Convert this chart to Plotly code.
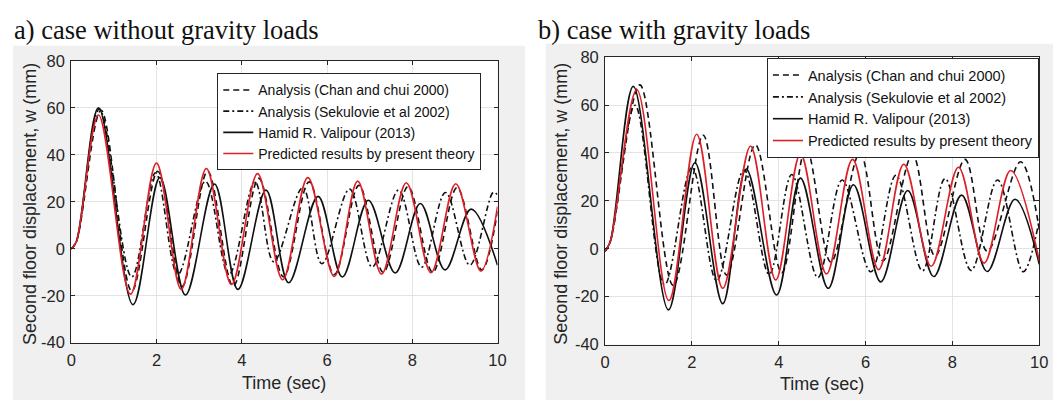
import plotly.graph_objects as go

W, H = 1061, 401

# ---------------- data (time s, displacement mm) ----------------
names = ["Analysis (Chan and chui 2000)", "Analysis (Sekulovie et al 2002)",
         "Hamid R. Valipour (2013)", "Predicted results by present theory"]

# panel a) case without gravity loads
a_chan_t = [0, 0.12, 0.70, 1.42, 2.03, 2.60, 3.20, 3.80, 4.40, 4.98, 5.58, 6.17, 6.75, 7.32, 7.90, 8.48, 9.05, 9.63, 10]
a_chan_v = [0, 3, 59, -18, 33, -16, 33, -16, 30, -12, 28.5, -11, 27, -10, 26.5, -10, 26, -9, 16]
a_sek_t = [0, 0.12, 0.66, 1.42, 1.98, 2.50, 3.15, 3.70, 4.31, 4.75, 5.43, 5.88, 6.53, 7.06, 7.68, 8.22, 8.78, 9.35, 9.90, 10]
a_sek_v = [0, 3, 59.5, -12, 32.4, -11, 28.7, -11, 28.5, -5.5, 26, -6.4, 25.4, -7.8, 25, -7.8, 24, -7, 24, 23]
a_ham_t = [0, 0.12, 0.64, 1.45, 2.08, 2.68, 3.36, 3.91, 4.57, 5.10, 5.79, 6.36, 6.97, 7.60, 8.19, 8.77, 9.38, 10]
a_ham_v = [0, 3, 60, -23.8, 30.3, -19.7, 27.6, -17.3, 25, -14.5, 22.3, -12, 20.7, -10.3, 19.3, -9, 16.9, -7]
a_red_t = [0, 0.12, 0.64, 1.39, 2.00, 2.58, 3.17, 3.76, 4.37, 4.96, 5.55, 6.17, 6.72, 7.28, 7.86, 8.44, 9.02, 9.61, 10]
a_red_v = [0, 3, 57, -19.3, 36.5, -17.3, 34.2, -15.2, 32, -13.2, 30.3, -11.8, 28.8, -10.8, 28.1, -10.2, 27.7, -9.5, 18]

# panel b) case with gravity loads
b_chan_t = [0, 0.12, 0.80, 1.57, 2.26, 2.80, 3.46, 4.07, 4.63, 5.20, 5.87, 6.40, 7.08, 7.60, 8.29, 8.80, 9.57, 10]
b_chan_v = [-1, 3, 68.4, -15.3, 47.4, -11, 43.4, -10, 42, -5.5, 40, -5, 39.3, -3, 37.3, -1, 36.3, 8]
b_sek_t = [0, 0.12, 0.69, 1.37, 2.00, 2.57, 3.20, 3.78, 4.30, 4.90, 5.46, 6.12, 6.70, 7.31, 7.83, 8.43, 9.04, 9.63, 10]
b_sek_v = [-1, 3, 59.9, -15, 34, -13.3, 32.9, -10.7, 31, -12, 28.7, -9.6, 30.7, -9.2, 29.3, -9, 28.7, -9.6, 12]
b_ham_t = [0, 0.12, 0.65, 1.46, 2.07, 2.71, 3.25, 3.95, 4.50, 5.14, 5.72, 6.35, 6.97, 7.57, 8.21, 8.80, 9.44, 10]
b_ham_v = [-1, 3, 67.8, -25.5, 35.9, -22.9, 33.3, -19.3, 29.5, -16.5, 26.7, -13.8, 24.3, -11.6, 22.4, -9.5, 20.7, -6.5]
b_red_t = [0, 0.12, 0.73, 1.47, 2.11, 2.71, 3.35, 3.93, 4.50, 5.10, 5.70, 6.30, 6.88, 7.51, 8.14, 8.73, 9.34, 10]
b_red_v = [-1, 3, 66.4, -21.6, 47.8, -16.5, 42.8, -13, 39.6, -10.5, 37.3, -8.7, 35.3, -7.3, 34, -6, 32.7, -5]

x_ticks = [0, 2, 4, 6, 8, 10]
x_tick_labels = ["0", "2", "4", "6", "8", "10"]
y_ticks = [-40, -20, 0, 20, 40, 60, 80]
y_tick_labels = ["-40", "-20", "0", "20", "40", "60", "80"]

# ---------------- styling ----------------
styles = [
    dict(color="#111111", width=1.6, dash="6px,4px"),
    dict(color="#111111", width=1.6, dash="6px,3px,2px,3px"),
    dict(color="#111111", width=1.6, dash="solid"),
    dict(color="#dd1f26", width=1.6, dash="solid"),
]
SANS = "Liberation Sans, Arial, sans-serif"
SERIF = "Liberation Serif, Times New Roman, serif"
AX = "#262626"

fig = go.Figure()
panels = [
    ("x", "y", "legend", [(a_chan_t, a_chan_v), (a_sek_t, a_sek_v), (a_ham_t, a_ham_v), (a_red_t, a_red_v)]),
    ("x2", "y2", "legend2", [(b_chan_t, b_chan_v), (b_sek_t, b_sek_v), (b_ham_t, b_ham_v), (b_red_t, b_red_v)]),
]
for xa, ya, lg, series in panels:
    for (t, v), name, st in zip(series, names, styles):
        fig.add_trace(go.Scatter(x=t, y=v, mode="lines", name=name, xaxis=xa, yaxis=ya,
                                 legend=lg, line=dict(shape="spline", smoothing=1.0, **st)))

# the page body adds an 8 px offset; positions below are given in screen pixels
OFF = 8


def px_x(p):
    return (p - OFF) / W


def px_y(p):
    return 1 - (p - OFF) / H


axis_common = dict(showline=True, linecolor=AX, linewidth=1, mirror="ticks", ticks="inside",
                   ticklen=4, tickcolor=AX, showgrid=True, gridcolor="#e3e3e3", gridwidth=1,
                   zeroline=False, tickfont=dict(family=SANS, size=16.5, color=AX))
xax = dict(range=[0, 10], tickvals=x_ticks, ticktext=x_tick_labels, ticklabelstandoff=3, **axis_common)
yax = dict(range=[-40, 80], tickvals=y_ticks, ticktext=y_tick_labels, ticklabelstandoff=2, **axis_common)

fig.update_layout(
    width=W, height=H, autosize=False,
    margin=dict(l=0, r=0, t=0, b=0),
    paper_bgcolor="white", plot_bgcolor="white",
    xaxis=dict(domain=[px_x(67), px_x(499)], anchor="y", **xax),
    yaxis=dict(domain=[px_y(349), px_y(54)], anchor="x", **yax),
    xaxis2=dict(domain=[px_x(608), px_x(1048)], anchor="y2", **xax),
    yaxis2=dict(domain=[px_y(351), px_y(50)], anchor="x2", **yax),
    legend=dict(x=px_x(215), y=px_y(67), xanchor="left", yanchor="top", bgcolor="white",
                bordercolor=AX, borderwidth=1, font=dict(family=SANS, size=14, color="#111"),
                tracegroupgap=0),
    legend2=dict(x=px_x(772), y=px_y(51), xanchor="left", yanchor="top", bgcolor="white",
                 bordercolor=AX, borderwidth=1, font=dict(family=SANS, size=14.5, color="#111"),
                 tracegroupgap=0),
    showlegend=True,
    shapes=[
        dict(type="rect", xref="paper", yref="paper", x0=px_x(8), x1=1, y0=0, y1=px_y(38),
             fillcolor="#f0f0f0", line=dict(width=0), layer="below"),
        dict(type="rect", xref="paper", yref="paper", x0=px_x(527), x1=px_x(548), y0=0, y1=px_y(36),
             fillcolor="white", line=dict(width=0), layer="below"),
        dict(type="rect", xref="paper", yref="paper", x0=px_x(548), x1=1, y0=0, y1=px_y(36),
             fillcolor="#f0f0f0", line=dict(width=0), layer="below"),
        dict(type="rect", xref="x domain", yref="y domain", x0=0, x1=1, y0=0, y1=1,
             fillcolor="white", line=dict(width=0), layer="below"),
        dict(type="rect", xref="x2 domain", yref="y2 domain", x0=0, x1=1, y0=0, y1=1,
             fillcolor="white", line=dict(width=0), layer="below"),
    ],
    annotations=[
        dict(text="a) case without gravity loads", xref="paper", yref="paper", x=px_x(7), y=px_y(22),
             xanchor="left", yanchor="middle", showarrow=False, font=dict(family=SERIF, size=26.5, color="#111")),
        dict(text="b) case with gravity loads", xref="paper", yref="paper", x=px_x(538), y=px_y(22),
             xanchor="left", yanchor="middle", showarrow=False, font=dict(family=SERIF, size=26.5, color="#111")),
        dict(text="Second floor displacement, w (mm)", xref="paper", yref="paper", x=px_x(25), y=px_y(204),
             xanchor="center", yanchor="middle", textangle=-90, showarrow=False,
             font=dict(family=SANS, size=18, color=AX)),
        dict(text="Second floor displacement, w (mm)", xref="paper", yref="paper", x=px_x(564), y=px_y(204),
             xanchor="center", yanchor="middle", textangle=-90, showarrow=False,
             font=dict(family=SANS, size=18, color=AX)),
        dict(text="Time (sec)", xref="paper", yref="paper", x=px_x(283), y=px_y(391),
             xanchor="center", yanchor="middle", showarrow=False, font=dict(family=SANS, size=18, color=AX)),
        dict(text="Time (sec)", xref="paper", yref="paper", x=px_x(828), y=px_y(392),
             xanchor="center", yanchor="middle", showarrow=False, font=dict(family=SANS, size=18, color=AX)),
    ],
)

fig.write_html("out.html")
